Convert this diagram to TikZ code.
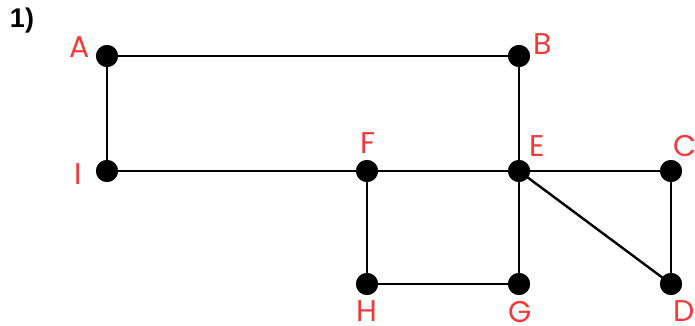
\documentclass[tikz,border=0pt]{standalone}
\usepackage{fontspec}
\setmainfont{Poppins}
\newfontfamily\numfont{Liberation Sans}
\definecolor{lblred}{HTML}{F23A3A}
\begin{document}
\begin{tikzpicture}[x=1pt,y=-1pt,
  vtx/.style={circle,fill=black,inner sep=0pt,minimum size=22pt},
  lbl/.style={text=lblred,font=\fontsize{30}{30}\selectfont,inner sep=0pt},
  edge/.style={line width=2.4pt,black}]
\useasboundingbox (0,0) rectangle (695,326);
% vertices
\node[vtx] (A) at (107,56) {};
\node[vtx] (B) at (519,56) {};
\node[vtx] (I) at (107,171) {};
\node[vtx] (F) at (367,171) {};
\node[vtx] (E) at (519,171) {};
\node[vtx] (C) at (671,171) {};
\node[vtx] (H) at (367,284) {};
\node[vtx] (G) at (519,284) {};
\node[vtx] (D) at (671,284) {};
% edges
\draw[edge] (A.center) -- (B.center);
\draw[edge] (A.center) -- (I.center);
\draw[edge] (B.center) -- (E.center);
\draw[edge] (I.center) -- (F.center);
\draw[edge] (F.center) -- (E.center);
\draw[edge] (E.center) -- (C.center);
\draw[edge] (C.center) -- (D.center);
\draw[edge] (E.center) -- (D.center);
\draw[edge] (E.center) -- (G.center);
\draw[edge] (F.center) -- (H.center);
\draw[edge] (H.center) -- (G.center);
% redraw the dots over the line ends
\foreach \v in {A,B,I,F,E,C,H,G,D} \fill (\v) circle[radius=11pt];
% labels
\node[lbl] (lA) at (80,47) {A};
\node[lbl] (lB) at (543,44) {B};
\node[lbl] (lI) at (78,174) {I};
\node[lbl] (lF) at (368,143) {F};
\node[lbl] (lE) at (537,146) {E};
\node[lbl] (lC) at (685,146) {C};
\node[lbl] (lH) at (367,311) {H};
\node[lbl] (lG) at (520,312) {G};
\node[lbl] (lD) at (684,311) {D};
\node[font=\numfont\bfseries\fontsize{27}{27}\selectfont,inner sep=0pt] (num) at (22,21) {1)};
\end{tikzpicture}
\end{document}
